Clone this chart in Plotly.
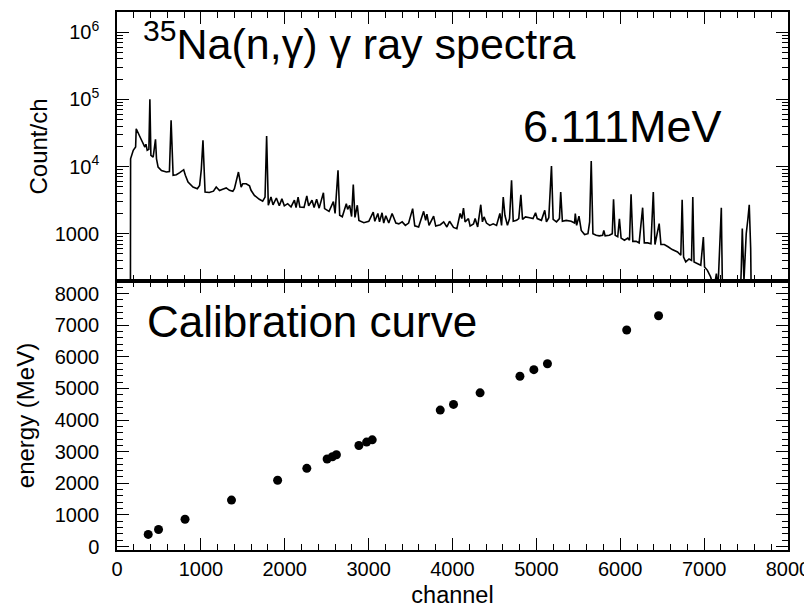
import plotly.graph_objects as go
from plotly.subplots import make_subplots

# gamma-ray spectrum (channel, counts per channel)
spec_channel = [160, 162, 194, 222, 229, 253, 293, 332, 345, 360, 380, 392, 404, 431, 459, 471,
                490, 530, 589, 625, 645, 669, 708, 748, 795, 815, 847, 906, 958, 985, 1005, 1025,
                1040, 1050, 1100, 1150, 1183, 1222, 1260, 1302, 1341, 1381, 1400, 1448, 1480, 1500,
                1540, 1580, 1598, 1638, 1697, 1737, 1765, 1784, 1804, 1836, 1860, 1900, 1935, 1966,
                1995, 2035, 2075, 2115, 2135, 2159, 2180, 2230, 2263, 2285, 2325, 2350, 2380, 2410,
                2461, 2475, 2528, 2580, 2600, 2635, 2655, 2686, 2734, 2750, 2774, 2797, 2817, 2837,
                2865, 2884, 2943, 3002, 3055, 3074, 3110, 3130, 3160, 3180, 3205, 3240, 3280, 3300,
                3325, 3360, 3400, 3438, 3477, 3525, 3550, 3596, 3656, 3680, 3695, 3720, 3775, 3800,
                3855, 3895, 3933, 3965, 4012, 4052, 4091, 4111, 4131, 4150, 4190, 4210, 4250, 4270,
                4300, 4337, 4357, 4376, 4405, 4445, 4485, 4525, 4565, 4585, 4605, 4625, 4655, 4680,
                4704, 4724, 4764, 4790, 4815, 4835, 4870, 4920, 4960, 4990, 5010, 5060, 5100, 5120,
                5148, 5180, 5200, 5240, 5275, 5290, 5310, 5355, 5415, 5455, 5464, 5480, 5508, 5535,
                5575, 5615, 5635, 5654, 5674, 5713, 5750, 5790, 5804, 5820, 5870, 5905, 5920, 5940,
                5970, 5990, 6010, 6050, 6090, 6110, 6129, 6150, 6190, 6225, 6267, 6287, 6327, 6366,
                6394, 6414, 6464, 6485, 6525, 6570, 6620, 6683, 6722, 6738, 6755, 6781, 6820, 6850,
                6865, 6880, 6920, 6960, 6991, 7005, 7039, 7078, 7118, 7146, 7165, 7205, 7220, 7430,
                7443, 7455, 7475, 7495, 7502, 7522, 7538, 7555, 7562]
spec_counts = [100, 13000, 17400, 19500, 36500, 30700, 24600, 19500, 21500, 17400, 18000, 100000, 14700, 13800, 25400, 13000,
               9800, 8700, 8300, 8400, 48600, 7400, 7550, 8100, 8960, 7400, 5880, 4950, 4680, 5240, 9000, 24500,
               6000, 4170, 4100, 4300, 4950, 4400, 4600, 4800, 4430, 4270, 4680, 8280, 4950, 5540,
               5540, 5150, 4430, 3720, 3250, 3040, 3500, 28400, 2650, 3510, 2690, 3400, 2600, 3300,
               2600, 2800, 2500, 3150, 2450, 3510, 2500, 2470, 3640, 2600, 3150, 2450, 3250, 2400,
               4070, 2360, 2150, 3000, 2000, 8770, 1880, 1790, 2790, 2300, 2650, 1800, 5370, 1750,
               2650, 1580, 1460, 1530, 2100, 1530, 2000, 1500, 2050, 1440, 1850, 1440, 2000, 1680,
               1440, 1400, 1500, 1330, 1440, 2360, 1310, 1260, 2150, 1580, 1950, 1330, 1830, 1300,
               1360, 1500, 1260, 1530, 1240, 1190, 2000, 1680, 2410, 1500, 1680, 1300, 1400, 1680,
               1260, 2700, 1500, 1780, 1440, 1330, 1400, 1330, 2000, 1330, 3520, 1880, 1330, 1680,
               6220, 1530, 1580, 1680, 3800, 1630, 1780, 1730, 1680, 2050, 1680, 1580, 2230, 1500,
               1730, 10160, 1630, 1500, 1680, 4170, 1530, 1580, 1530, 1440, 2000, 1330, 1830, 1120,
               970, 1000, 1500, 12100, 1000, 946, 930, 946, 1120, 930, 946, 1000, 3250, 946,
               900, 1670, 860, 800, 860, 800, 3860, 770, 770, 730, 2440, 730, 730, 710,
               4170, 690, 1410, 690, 690, 640, 580, 535, 477, 3200, 450, 380, 420, 400,
               3520, 380, 360, 340, 890, 320, 285, 227, 150, 254, 150, 2440, 100, 100,
               300, 1190, 200, 535, 1000, 1670, 2700, 600, 100]

# calibration points
cal_channel = [372, 495, 811, 1365, 1915, 2263, 2505, 2568, 2616, 2884, 2976, 3043,
               3854, 4012, 4329, 4804, 4970, 5132, 6077, 6457]
cal_energy = [383, 540, 863, 1470, 2097, 2474, 2769, 2841, 2904, 3197, 3303, 3375,
              4317, 4496, 4861, 5385, 5595, 5783, 6851, 7300]

x_ticks = [0, 1000, 2000, 3000, 4000, 5000, 6000, 7000, 8000]
log_major = [1000, 10000, 100000, 1000000]
log_major_text = ["1000", "10<sup>4</sup>", "10<sup>5</sup>", "10<sup>6</sup>"]
log_minor = [m * d for d in [100, 1000, 10000, 100000, 1000000] for m in range(2, 10)]

FONT = "Liberation Sans, Arial, sans-serif"

fig = make_subplots(rows=2, cols=1, shared_xaxes=True, vertical_spacing=0)

fig.add_trace(go.Scatter(x=spec_channel, y=spec_counts, mode="lines",
                         line=dict(color="black", width=1.6), showlegend=False), row=1, col=1)
fig.add_trace(go.Scatter(x=cal_channel, y=cal_energy, mode="markers",
                         marker=dict(color="black", size=9), showlegend=False), row=2, col=1)

axis_common = dict(showline=True, linecolor="black", linewidth=1.5, mirror="ticks",
                   ticks="inside", ticklen=12, tickwidth=1.2, tickcolor="black",
                   showgrid=False, zeroline=False,
                   tickfont=dict(family=FONT, size=20, color="black"))

fig.update_xaxes(range=[0, 8000], tickmode="array", tickvals=x_ticks, ticklabeloverflow="allow",
                 minor=dict(dtick=200, tick0=0, ticks="inside", ticklen=6, tickcolor="black", showgrid=False),
                 **axis_common)
fig.update_xaxes(showticklabels=False, row=1, col=1)
fig.update_xaxes(title=dict(text="channel", font=dict(family=FONT, size=23.5, color="black"), standoff=8),
                 row=2, col=1)

fig.update_yaxes(type="log", range=[2.296, 6.30], tickmode="array",
                 tickvals=log_major, ticktext=log_major_text, ticklabelstandoff=12,
                 minor=dict(tickmode="array", tickvals=log_minor, ticks="inside", ticklen=6,
                            tickcolor="black", showgrid=False),
                 title=dict(text="Count/ch", font=dict(family=FONT, size=24, color="black"), standoff=0),
                 row=1, col=1, **axis_common)
fig.update_yaxes(range=[-110, 8400], dtick=1000, tick0=0, ticklabelstandoff=12,
                 minor=dict(dtick=200, tick0=0, ticks="inside", ticklen=6, tickcolor="black", showgrid=False),
                 title=dict(text="energy (MeV)", font=dict(family=FONT, size=24, color="black"), standoff=13),
                 row=2, col=1, **axis_common)

# page body adds ~8px offset, so the figure is a bit smaller than the window
fig.update_layout(width=804, height=601, plot_bgcolor="white", paper_bgcolor="white",
                  margin=dict(l=109, r=21, t=2, b=59),
                  font=dict(family=FONT, color="black"))

fig.add_annotation(text="<sup>35</sup>Na(n,γ) γ ray spectra", xref="paper", yref="paper",
                   x=0.036, y=0.946, xanchor="left", yanchor="middle", showarrow=False,
                   font=dict(family=FONT, size=43, color="black"))
fig.add_annotation(text="6.111MeV", xref="paper", yref="paper",
                   x=0.602, y=0.787, xanchor="left", yanchor="middle", showarrow=False,
                   font=dict(family=FONT, size=45, color="black"))
fig.add_annotation(text="Calibration curve", xref="paper", yref="paper",
                   x=0.042, y=0.424, xanchor="left", yanchor="middle", showarrow=False,
                   font=dict(family=FONT, size=44, color="black"))

fig.write_html("out.html")
